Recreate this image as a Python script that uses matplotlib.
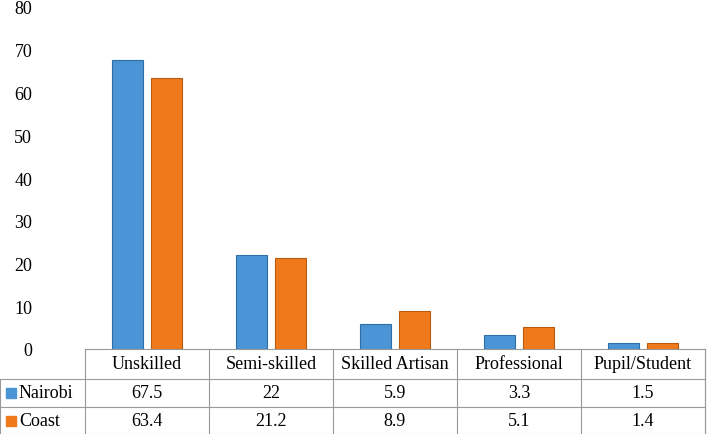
import matplotlib.pyplot as plt
import numpy as np

plt.rcParams['font.family'] = ['Liberation Serif', 'DejaVu Serif']

categories = ['Unskilled', 'Semi-skilled', 'Skilled Artisan', 'Professional', 'Pupil/Student']
nairobi = [67.5, 22, 5.9, 3.3, 1.5]
coast = [63.4, 21.2, 8.9, 5.1, 1.4]
nairobi_lbl = ['67.5', '22', '5.9', '3.3', '1.5']
coast_lbl = ['63.4', '21.2', '8.9', '5.1', '1.4']
series = ['Nairobi', 'Coast']
colors = ['#4b95d6', '#ee7a1c']
edges = ['#2e6ea8', '#b85a10']

fig = plt.figure(figsize=(7.1, 4.35), dpi=100)
W, H = 710, 435
x0, x1, ytop, ybot = 85, 705, 8, 350
ax = fig.add_axes([x0 / W, 1 - ybot / H, (x1 - x0) / W, (ybot - ytop) / H])

x = np.arange(len(categories))
bw = 0.25
ax.bar(x - 0.16, nairobi, bw, color=colors[0], edgecolor=edges[0], linewidth=0.8)
ax.bar(x + 0.16, coast, bw, color=colors[1], edgecolor=edges[1], linewidth=0.8)
ax.set_xlim(-0.5, len(categories) - 0.5)
ax.set_ylim(0, 80)
ax.set_yticks(range(0, 81, 10))
ax.tick_params(axis='y', labelsize=13, length=0, pad=38)
ax.set_xticks([])
for s in ['top', 'right', 'bottom', 'left']:
    ax.spines[s].set_visible(False)

# data table below the axes (figure pixel coordinates)
tax = fig.add_axes([0, 0, 1, 1])
tax.set_xlim(0, W)
tax.set_ylim(H, 0)
tax.axis('off')
rows = [350, 380, 408, 435]
cw = (x1 - x0) / len(categories)
lc = '#999999'
for y in rows:
    tax.plot([0 if y > 350 else x0, x1], [y, y], color=lc, lw=0.8)
tax.plot([0, 0], [380, 435], color=lc, lw=0.8)
for i in range(len(categories) + 1):
    tax.plot([x0 + i * cw] * 2, [350, 435], color=lc, lw=0.8)
tax.plot([x1, x1], [350, 435], color=lc, lw=0.8)
for i, c in enumerate(categories):
    cx = x0 + (i + 0.5) * cw
    tax.text(cx, 365, c, ha='center', va='center', fontsize=13)
    tax.text(cx, 394, nairobi_lbl[i], ha='center', va='center', fontsize=13)
    tax.text(cx, 421.5, coast_lbl[i], ha='center', va='center', fontsize=13)
for j, (name, yc) in enumerate(zip(series, [394, 421.5])):
    tax.add_patch(plt.Rectangle((6, yc - 5), 10, 10, color=colors[j]))
    tax.text(19, yc, name, ha='left', va='center', fontsize=13)

fig.savefig('out.png', dpi=100)
